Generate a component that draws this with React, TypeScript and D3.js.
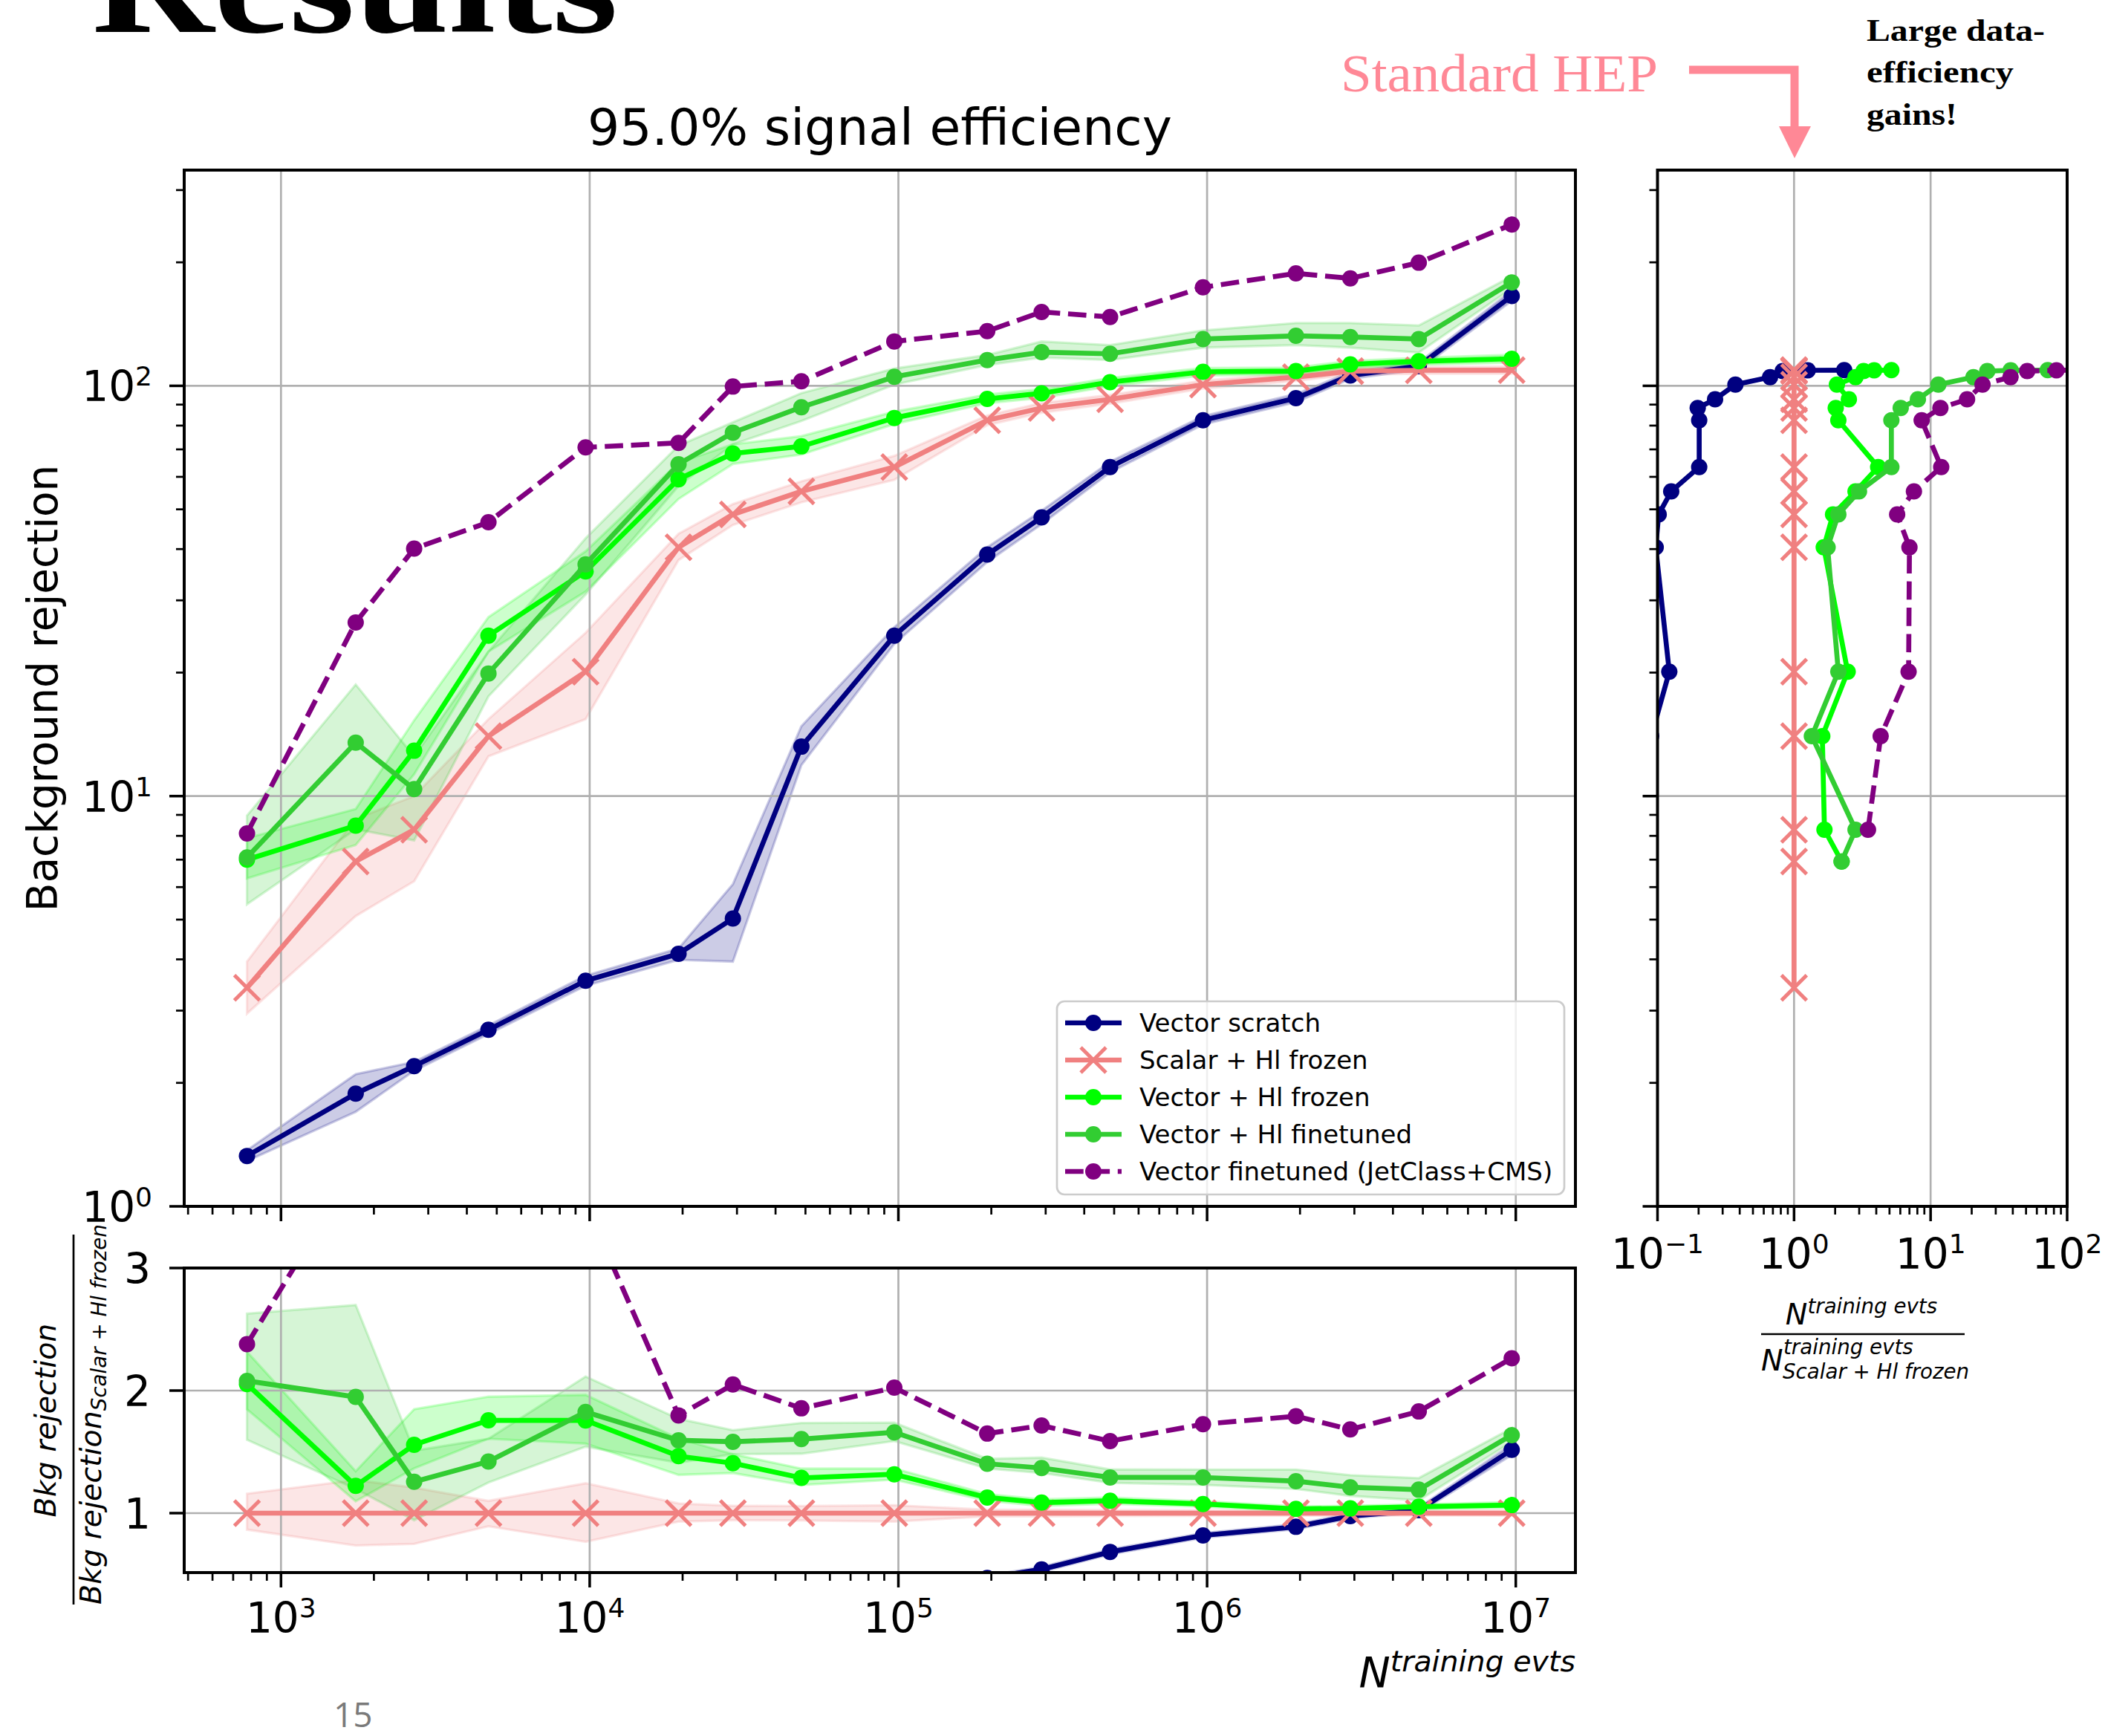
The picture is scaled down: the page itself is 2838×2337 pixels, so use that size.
import React from 'react';
import * as d3 from 'd3';

// ---------------------------------------------------------------------------
// Data
// ---------------------------------------------------------------------------

// Number of training events used for each point
const trainingEvents = [776, 1746, 2700, 4700, 9700, 19400, 29100, 48500, 97000, 194000, 291000, 485000, 970000, 1940000, 2910000, 4850000, 9700000];

// Background rejection at 95% signal efficiency (central value, band low, band high)
const vectorScratch = [1.327, 1.883, 2.197, 2.694, 3.547, 4.128, 5.03, 13.2, 24.6, 38.8, 47.8, 63.4, 82.4, 93.3, 106.0, 111.7, 165.6];
const vectorScratchLow = [1.29, 1.70, 2.14, 2.63, 3.45, 3.99, 3.95, 11.9, 23.5, 37.2, 46.0, 61.5, 80.5, 91.2, 104.0, 109.5, 161.0];
const vectorScratchHigh = [1.37, 2.10, 2.25, 2.76, 3.65, 4.25, 6.10, 14.8, 25.8, 40.4, 49.6, 65.3, 84.3, 95.5, 108.0, 114.0, 170.5];

const scalarHlFrozen = [3.41, 6.93, 8.28, 14.0, 20.1, 40.4, 48.6, 55.3, 63.4, 82.4, 88.3, 92.7, 100.7, 105.0, 108.6, 109.1, 109.2];
const scalarHlFrozenLow = [2.95, 5.1, 6.2, 12.5, 15.4, 37.6, 45.8, 52.0, 59.0, 80.2, 86.0, 90.5, 98.5, 102.8, 106.5, 107.0, 107.0];
const scalarHlFrozenHigh = [3.95, 8.8, 10.0, 15.4, 25.0, 43.6, 51.5, 58.5, 67.5, 84.7, 90.8, 95.0, 103.0, 107.2, 110.8, 111.2, 111.4];

const vectorHlFrozen = [7.0, 8.47, 12.9, 24.6, 35.3, 59.2, 68.4, 71.2, 83.5, 92.9, 95.9, 102.1, 108.2, 108.6, 112.8, 114.8, 116.4];
const vectorHlFrozenLow = [6.3, 7.6, 11.3, 22.5, 31.5, 53.0, 64.5, 68.0, 80.7, 90.7, 93.5, 99.8, 106.0, 106.5, 110.5, 112.5, 114.0];
const vectorHlFrozenHigh = [7.9, 9.3, 15.3, 27.3, 39.5, 65.0, 72.0, 75.4, 86.5, 95.2, 98.2, 104.5, 110.5, 110.8, 115.0, 117.0, 119.0];

const vectorHlFinetuned = [7.09, 13.5, 10.4, 19.9, 36.7, 64.4, 76.9, 88.7, 105.2, 115.6, 120.8, 119.7, 130.0, 132.4, 131.5, 130.0, 178.7];
const vectorHlFinetunedLow = [5.45, 8.3, 7.8, 17.5, 31.0, 57.0, 72.0, 82.1, 100.7, 112.4, 117.2, 115.6, 123.9, 125.7, 123.9, 120.5, 172.6];
const vectorHlFinetunedHigh = [8.96, 18.7, 12.5, 22.5, 42.5, 71.5, 81.5, 96.0, 110.2, 118.9, 128.3, 125.7, 136.5, 142.3, 142.3, 140.3, 184.9];

const vectorFinetunedJetClass = [8.11, 26.5, 40.1, 46.5, 70.8, 72.6, 99.6, 102.6, 128.3, 135.9, 151.4, 147.2, 173.8, 188.0, 182.8, 199.6, 247.2];

// Data-efficiency gain at each rejection level of the Scalar + Hl frozen curve
const gainVectorScratch = [null, null, null, 0.09, 0.122, 0.097, 0.102, 0.126, 0.202, 0.202, 0.197, 0.264, 0.372, 0.668, 0.826, 1.26, 2.33];
const gainScalarHlFrozen = [1, 1, 1, 1, 1, 1, 1, 1, 1, 1, 1, 1, 1, 1, 1, 1, 1];
const gainVectorHlFrozen = [null, 2.23, 1.67, 1.61, 2.47, 1.65, 1.93, 2.82, 4.13, 2.11, 2.02, 2.52, 2.06, 2.82, 3.23, 3.86, 5.16];
const gainVectorHlFinetuned = [null, 2.23, 2.82, 1.35, 2.11, 1.76, 2.11, 2.99, 5.16, 5.16, 6.04, 8.07, 11.4, 20.6, 26.0, 38.6, 72.1];
const gainVectorFinetunedJetClass = [null, null, 3.48, 4.31, 6.9, 7.0, 5.69, 7.55, 11.96, 8.6, 11.8, 18.5, 24.0, 38.5, 51.0, 83.5, 160];

const seriesLabels = ['Vector scratch', 'Scalar + Hl frozen', 'Vector + Hl frozen', 'Vector + Hl finetuned', 'Vector finetuned (JetClass+CMS)'];

// Tick values
const mainXExponents = [3, 4, 5, 6, 7];
const mainYExponents = [0, 1, 2];
const ratioYTicks = [1, 2, 3];
const gainXExponents = [-1, 0, 1, 2];

// ---------------------------------------------------------------------------
// Layout & style
// ---------------------------------------------------------------------------
const W = 2838;
const H = 2337;
const MAIN = { left: 248, right: 2121, top: 229, bottom: 1624 };
const RATIO = { left: 248, right: 2121, top: 1707, bottom: 2117 };
const GAIN = { left: 2231.5, right: 2783, top: 229, bottom: 1624 };

const FONT = '"DejaVu Sans", sans-serif';
const TICK_FS = 56.5;
const SUP_FS = 36;
const LW = 6.7;
const DOT_R = 11;
const XM = 17;

const COLORS = ['#000080', '#f08080', '#00ff00', '#32cd32', '#800080'];
const DASH = '24.7 10.7';

type Series = {
  label: string;
  color: string;
  values: number[];
  low?: number[];
  high?: number[];
  gain: (number | null)[];
  marker: 'o' | 'x';
  dashed: boolean;
};

const SERIES: Series[] = [
  { label: seriesLabels[0], color: COLORS[0], values: vectorScratch, low: vectorScratchLow, high: vectorScratchHigh, gain: gainVectorScratch, marker: 'o', dashed: false },
  { label: seriesLabels[1], color: COLORS[1], values: scalarHlFrozen, low: scalarHlFrozenLow, high: scalarHlFrozenHigh, gain: gainScalarHlFrozen, marker: 'x', dashed: false },
  { label: seriesLabels[2], color: COLORS[2], values: vectorHlFrozen, low: vectorHlFrozenLow, high: vectorHlFrozenHigh, gain: gainVectorHlFrozen, marker: 'o', dashed: false },
  { label: seriesLabels[3], color: COLORS[3], values: vectorHlFinetuned, low: vectorHlFinetunedLow, high: vectorHlFinetunedHigh, gain: gainVectorHlFinetuned, marker: 'o', dashed: false },
  { label: seriesLabels[4], color: COLORS[4], values: vectorFinetunedJetClass, gain: gainVectorFinetunedJetClass, marker: 'o', dashed: true },
];

// ---------------------------------------------------------------------------
// Scales
// ---------------------------------------------------------------------------
const x = d3.scaleLog().domain([Math.pow(10, 2.6865), Math.pow(10, 7.1932)]).range([MAIN.left, MAIN.right]);
const y = d3.scaleLog().domain([1, Math.pow(10, 2.5258)]).range([MAIN.bottom, MAIN.top]);
const yr = d3.scaleLinear().domain([0.515, 3]).range([RATIO.bottom, RATIO.top]);
const gx = d3.scaleLog().domain([0.1, 100]).range([GAIN.left, GAIN.right]);

const isPow10 = (v: number) => Math.abs(Math.log10(v) - Math.round(Math.log10(v))) < 1e-9;

// ---------------------------------------------------------------------------
// Small drawing helpers
// ---------------------------------------------------------------------------
function Marker({ cx, cy, kind, color }: { cx: number; cy: number; kind: 'o' | 'x'; color: string }) {
  if (kind === 'x') {
    return (
      <g stroke={color} strokeWidth={5}>
        <line x1={cx - XM} y1={cy - XM} x2={cx + XM} y2={cy + XM} />
        <line x1={cx - XM} y1={cy + XM} x2={cx + XM} y2={cy - XM} />
      </g>
    );
  }
  return <circle cx={cx} cy={cy} r={DOT_R} fill={color} />;
}

function Pow10({ px, py, exp, anchor }: { px: number; py: number; exp: string; anchor: 'start' | 'middle' | 'end' }) {
  return (
    <text x={px} y={py} textAnchor={anchor} fontFamily={FONT} fontSize={TICK_FS} fill="#000">
      10<tspan dy={-21} fontSize={SUP_FS}>{exp}</tspan>
    </text>
  );
}

function LogXTicks({ scale, yPos }: { scale: d3.ScaleLogarithmic<number, number>; yPos: number }) {
  return (
    <g stroke="#000">
      {scale.ticks().map((t, i) => {
        const major = isPow10(t);
        const px = scale(t);
        return <line key={i} x1={px} x2={px} y1={yPos} y2={yPos + (major ? 20 : 11)} strokeWidth={major ? 3.5 : 2.7} />;
      })}
    </g>
  );
}

function LogYTicks({ scale, xPos }: { scale: d3.ScaleLogarithmic<number, number>; xPos: number }) {
  return (
    <g stroke="#000">
      {scale.ticks().map((t, i) => {
        const major = isPow10(t);
        const py = scale(t);
        return <line key={i} x1={xPos} x2={xPos - (major ? 20 : 11)} y1={py} y2={py} strokeWidth={major ? 3.5 : 2.7} />;
      })}
    </g>
  );
}

function Frame({ box }: { box: { left: number; right: number; top: number; bottom: number } }) {
  return <rect x={box.left} y={box.top} width={box.right - box.left} height={box.bottom - box.top} fill="none" stroke="#000" strokeWidth={4} />;
}

// ---------------------------------------------------------------------------
// Chart
// ---------------------------------------------------------------------------
export default function App() {
  const idx = trainingEvents.map((_, i) => i);

  const mainLine = (vals: number[]) =>
    d3.line<number>().x((i) => x(trainingEvents[i])).y((i) => y(vals[i]))(idx) || '';
  const mainBand = (lo: number[], hi: number[]) =>
    d3.area<number>().x((i) => x(trainingEvents[i])).y0((i) => y(lo[i])).y1((i) => y(hi[i]))(idx) || '';

  const ratioLine = (vals: number[]) =>
    d3.line<number>().x((i) => x(trainingEvents[i])).y((i) => yr(vals[i] / scalarHlFrozen[i]))(idx) || '';
  const ratioBand = (lo: number[], hi: number[]) =>
    d3
      .area<number>()
      .x((i) => x(trainingEvents[i]))
      .y0((i) => yr(lo[i] / scalarHlFrozen[i]))
      .y1((i) => yr(hi[i] / scalarHlFrozen[i]))(idx) || '';

  const gainLine = (g: (number | null)[]) =>
    d3
      .line<number>()
      .defined((i) => g[i] != null)
      .x((i) => gx(g[i] as number))
      .y((i) => y(scalarHlFrozen[i]))(idx) || '';

  const gridColor = '#b0b0b0';
  const legendRows = [1377, 1427, 1477, 1527, 1577];

  return (
    <svg
      width={W}
      height={H}
      viewBox={`0 0 ${W} ${H}`}
      style={{ position: 'absolute', left: 0, top: 0, background: '#fff' }}
      xmlns="http://www.w3.org/2000/svg"
    >
      <defs>
        <clipPath id="clip-main">
          <rect x={MAIN.left} y={MAIN.top} width={MAIN.right - MAIN.left} height={MAIN.bottom - MAIN.top} />
        </clipPath>
        <clipPath id="clip-ratio">
          <rect x={RATIO.left} y={RATIO.top} width={RATIO.right - RATIO.left} height={RATIO.bottom - RATIO.top} />
        </clipPath>
        <clipPath id="clip-gain">
          <rect x={GAIN.left} y={GAIN.top} width={GAIN.right - GAIN.left} height={GAIN.bottom - GAIN.top} />
        </clipPath>
      </defs>

      <rect x={0} y={0} width={W} height={H} fill="#fff" />

      {/* Slide heading, running off the top edge */}
      <text
        x={124}
        y={43}
        fontFamily='"Liberation Serif", serif'
        fontWeight={900}
        fontSize={190}
        textLength={708}
        lengthAdjust="spacingAndGlyphs"
        fill="#000"
      >
        Results
      </text>

      {/* Annotation: baseline pointer */}
      <text
        x={1805}
        y={123}
        fontFamily='"Liberation Serif", serif'
        fontSize={71}
        textLength={427}
        lengthAdjust="spacingAndGlyphs"
        fill="#ff8896"
      >
        Standard HEP
      </text>
      <path d="M 2274 94 H 2416 V 172" fill="none" stroke="#ff8896" strokeWidth={11} />
      <polygon points="2395,170 2438,170 2416,213" fill="#ff8896" />

      <g fontFamily='"Liberation Serif", serif' fontWeight={700} fontSize={43} fill="#000">
        <text x={2513} y={55} textLength={240} lengthAdjust="spacingAndGlyphs">Large data-</text>
        <text x={2513} y={111} textLength={198} lengthAdjust="spacingAndGlyphs">efficiency</text>
        <text x={2513} y={168} textLength={122} lengthAdjust="spacingAndGlyphs">gains!</text>
      </g>

      {/* Title */}
      <text x={(MAIN.left + MAIN.right) / 2} y={195} textAnchor="middle" fontFamily={FONT} fontSize={68} fill="#000">
        95.0% signal efficiency
      </text>

      {/* ================= Main panel ================= */}
      <g clipPath="url(#clip-main)">
        {SERIES.map((s, k) =>
          s.low && s.high ? (
            <path key={k} d={mainBand(s.low, s.high)} fill={s.color} fillOpacity={0.2} stroke={s.color} strokeOpacity={0.2} strokeWidth={3.3} />
          ) : null
        )}
        <g stroke={gridColor} strokeWidth={2.7}>
          {mainXExponents.map((e) => (
            <line key={e} x1={x(Math.pow(10, e))} x2={x(Math.pow(10, e))} y1={MAIN.top} y2={MAIN.bottom} />
          ))}
          {mainYExponents.map((e) => (
            <line key={e} x1={MAIN.left} x2={MAIN.right} y1={y(Math.pow(10, e))} y2={y(Math.pow(10, e))} />
          ))}
        </g>
        {SERIES.map((s, k) => (
          <g key={k}>
            <path d={mainLine(s.values)} fill="none" stroke={s.color} strokeWidth={LW} strokeDasharray={s.dashed ? DASH : undefined} strokeLinejoin="round" />
            {s.values.map((v, i) => (
              <Marker key={i} cx={x(trainingEvents[i])} cy={y(v)} kind={s.marker} color={s.color} />
            ))}
          </g>
        ))}
      </g>
      <LogXTicks scale={x} yPos={MAIN.bottom} />
      <LogYTicks scale={y} xPos={MAIN.left} />
      <Frame box={MAIN} />
      {mainYExponents.map((e) => (
        <Pow10 key={e} px={205} py={y(Math.pow(10, e)) + 21} exp={String(e)} anchor="end" />
      ))}
      <text
        transform={`translate(77, ${(MAIN.top + MAIN.bottom) / 2}) rotate(-90)`}
        textAnchor="middle"
        fontFamily={FONT}
        fontSize={TICK_FS}
        fill="#000"
      >
        Background rejection
      </text>

      {/* Legend */}
      <g>
        <rect x={1423} y={1348} width={683} height={260} rx={10} fill="#fff" fillOpacity={0.8} stroke="#cccccc" strokeWidth={2.7} />
        {SERIES.map((s, k) => (
          <g key={k}>
            <line
              x1={1434}
              x2={1510}
              y1={legendRows[k]}
              y2={legendRows[k]}
              stroke={s.color}
              strokeWidth={LW}
              strokeDasharray={s.dashed ? DASH : undefined}
            />
            <Marker cx={1472} cy={legendRows[k]} kind={s.marker} color={s.color} />
            <text x={1534} y={legendRows[k] + 12} fontFamily={FONT} fontSize={34} fill="#000">
              {s.label}
            </text>
          </g>
        ))}
      </g>

      {/* ================= Ratio panel ================= */}
      <g clipPath="url(#clip-ratio)">
        {SERIES.map((s, k) =>
          s.low && s.high ? (
            <path key={k} d={ratioBand(s.low, s.high)} fill={s.color} fillOpacity={0.2} stroke={s.color} strokeOpacity={0.2} strokeWidth={3.3} />
          ) : null
        )}
        <g stroke={gridColor} strokeWidth={2.7}>
          {mainXExponents.map((e) => (
            <line key={e} x1={x(Math.pow(10, e))} x2={x(Math.pow(10, e))} y1={RATIO.top} y2={RATIO.bottom} />
          ))}
          {ratioYTicks.map((t) => (
            <line key={t} x1={RATIO.left} x2={RATIO.right} y1={yr(t)} y2={yr(t)} />
          ))}
        </g>
        {SERIES.map((s, k) => (
          <g key={k}>
            <path d={ratioLine(s.values)} fill="none" stroke={s.color} strokeWidth={LW} strokeDasharray={s.dashed ? DASH : undefined} strokeLinejoin="round" />
            {s.values.map((v, i) => (
              <Marker key={i} cx={x(trainingEvents[i])} cy={yr(v / scalarHlFrozen[i])} kind={s.marker} color={s.color} />
            ))}
          </g>
        ))}
      </g>
      <LogXTicks scale={x} yPos={RATIO.bottom} />
      <g stroke="#000" strokeWidth={3.5}>
        {ratioYTicks.map((t) => (
          <line key={t} x1={RATIO.left} x2={RATIO.left - 20} y1={yr(t)} y2={yr(t)} />
        ))}
      </g>
      <Frame box={RATIO} />
      {ratioYTicks.map((t) => (
        <text key={t} x={203} y={yr(t) + 21} textAnchor="end" fontFamily={FONT} fontSize={TICK_FS} fill="#000">
          {t}
        </text>
      ))}
      {mainXExponents.map((e) => (
        <Pow10 key={e} px={x(Math.pow(10, e))} py={2198} exp={String(e)} anchor="middle" />
      ))}
      <text x={MAIN.right} y={2272} textAnchor="end" fontFamily={FONT} fontStyle="italic" fontSize={TICK_FS} fill="#000">
        N<tspan dy={-22} fontSize={39.5}>training evts</tspan>
      </text>

      {/* Ratio y-axis label (fraction) */}
      <g transform={`translate(99, ${(RATIO.top + RATIO.bottom) / 2}) rotate(-90)`} fontFamily={FONT} fontStyle="italic" fill="#000">
        <text x={0} y={-24} textAnchor="middle" fontSize={39.5}>Bkg rejection</text>
        <line x1={-248} x2={250} y1={0} y2={0} stroke="#000" strokeWidth={2.7} />
        <text x={-248} y={37} fontSize={39.5}>
          Bkg rejection<tspan dy={7} fontSize={27.7}>Scalar + Hl frozen</tspan>
        </text>
      </g>

      {/* ================= Data-efficiency gain panel ================= */}
      <g clipPath="url(#clip-gain)">
        <g stroke={gridColor} strokeWidth={2.7}>
          {gainXExponents.map((e) => (
            <line key={e} x1={gx(Math.pow(10, e))} x2={gx(Math.pow(10, e))} y1={GAIN.top} y2={GAIN.bottom} />
          ))}
          {mainYExponents.map((e) => (
            <line key={e} x1={GAIN.left} x2={GAIN.right} y1={y(Math.pow(10, e))} y2={y(Math.pow(10, e))} />
          ))}
        </g>
        {SERIES.map((s, k) => (
          <g key={k}>
            <path d={gainLine(s.gain)} fill="none" stroke={s.color} strokeWidth={LW} strokeDasharray={s.dashed ? DASH : undefined} strokeLinejoin="round" />
            {s.gain.map((g, i) =>
              g == null ? null : <Marker key={i} cx={gx(g)} cy={y(scalarHlFrozen[i])} kind={s.marker} color={s.color} />
            )}
          </g>
        ))}
      </g>
      <LogXTicks scale={gx} yPos={GAIN.bottom} />
      <LogYTicks scale={y} xPos={GAIN.left} />
      <Frame box={GAIN} />
      {gainXExponents.map((e) => (
        <Pow10 key={e} px={gx(Math.pow(10, e))} py={1708} exp={e < 0 ? `\u2212${-e}` : String(e)} anchor="middle" />
      ))}

      {/* Gain x-axis label (fraction) */}
      <g fontFamily={FONT} fontStyle="italic" fill="#000">
        <text x={2506} y={1783} textAnchor="middle" fontSize={39.5}>
          N<tspan dy={-15} fontSize={27.7}>training evts</tspan>
        </text>
        <line x1={2371} x2={2645} y1={1796} y2={1796} stroke="#000" strokeWidth={2.7} />
        <text x={2371} y={1845} fontSize={39.5}>N</text>
        <text x={2401} y={1823} fontSize={27.7}>training evts</text>
        <text x={2400} y={1856} fontSize={27.7}>Scalar + Hl frozen</text>
      </g>

      {/* Page number */}
      <text x={449} y={2325} fontFamily='"Open Sans", sans-serif' fontSize={46} fill="#7a7a7a">
        15
      </text>
    </svg>
  );
}
